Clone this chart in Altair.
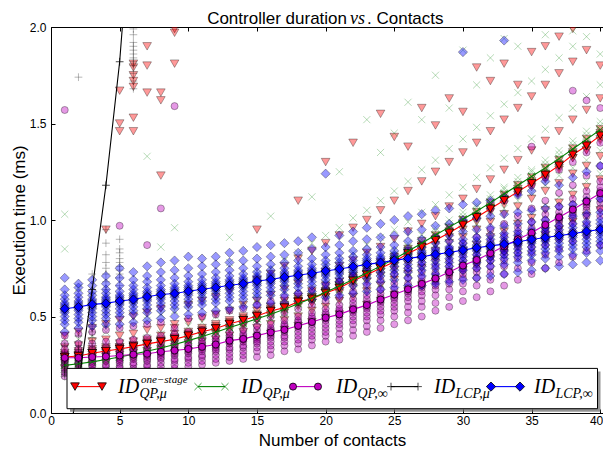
import altair as alt
import pandas as pd

# ---------------- data ----------------
CONTACTS = [1, 2, 3, 4, 5, 6, 7, 8, 9, 10, 11, 12, 13, 14, 15, 16, 17, 18, 19, 20,
            21, 22, 23, 24, 25, 26, 27, 28, 29, 30, 31, 32, 33, 34, 35, 36, 37, 38, 39, 40]

FIT_ONESTAGE = [0.290, 0.295, 0.310, 0.321, 0.332, 0.344, 0.358, 0.370, 0.382, 0.401,
                0.421, 0.438, 0.462, 0.481, 0.503, 0.529, 0.546, 0.576, 0.592, 0.622,
                0.648, 0.685, 0.716, 0.750, 0.784, 0.827, 0.861, 0.895, 0.934, 0.975,
                1.014, 1.058, 1.102, 1.147, 1.190, 1.234, 1.282, 1.338, 1.385, 1.437]
FIT_QP_MU = [0.247, 0.255, 0.265, 0.277, 0.290, 0.305, 0.320, 0.337, 0.355, 0.375,
             0.396, 0.418, 0.443, 0.465, 0.488, 0.512, 0.538, 0.566, 0.595, 0.626,
             0.658, 0.692, 0.726, 0.761, 0.798, 0.838, 0.880, 0.922, 0.963, 1.004,
             1.045, 1.090, 1.135, 1.180, 1.225, 1.270, 1.318, 1.368, 1.418, 1.468]
FIT_QP_INF = [0.286, 0.286, 0.290, 0.293, 0.298, 0.303, 0.307, 0.317, 0.324, 0.332,
              0.343, 0.355, 0.375, 0.384, 0.401, 0.418, 0.431, 0.452, 0.472, 0.494,
              0.511, 0.537, 0.559, 0.588, 0.614, 0.641, 0.669, 0.697, 0.730, 0.764,
              0.793, 0.828, 0.864, 0.900, 0.934, 0.975, 1.014, 1.054, 1.096, 1.139]
FIT_LCP_MU = [-0.25, 0.15, 0.64, 1.18, 1.82, 2.74]
FIT_LCP_INF = [0.540, 0.549, 0.563, 0.568, 0.580, 0.588, 0.602, 0.614, 0.619, 0.631,
               0.641, 0.650, 0.662, 0.670, 0.684, 0.692, 0.704, 0.714, 0.724, 0.736,
               0.746, 0.758, 0.770, 0.779, 0.791, 0.801, 0.810, 0.822, 0.832, 0.844,
               0.856, 0.866, 0.875, 0.887, 0.899, 0.909, 0.919, 0.929, 0.941, 0.951]

SAMPLES_ONESTAGE = [
    [0.23, 0.26, 0.28, 0.29, 0.31, 0.34, 0.40, 0.27, 0.29, 0.30],
    [0.24, 0.27, 0.29, 0.30, 0.32, 0.35, 0.42, 0.28, 0.30, 0.31],
    [0.25, 0.28, 0.30, 0.31, 0.33, 0.37, 0.44, 0.29, 0.31, 0.32],
    [0.26, 0.29, 0.31, 0.32, 0.34, 0.38, 0.46, 0.95, 0.30, 0.32, 0.33],
    [0.27, 0.30, 0.32, 0.34, 0.36, 0.40, 0.48, 1.46, 1.50, 1.67, 0.31, 0.33, 0.34],
    [0.28, 0.31, 0.33, 0.35, 0.37, 0.41, 0.50, 1.46, 1.53, 1.69, 1.72, 1.75, 1.79, 1.81, 0.32, 0.34, 0.35],
    [0.29, 0.32, 0.35, 0.36, 0.38, 0.43, 0.52, 1.66, 1.80, 1.90, 0.34, 0.36, 0.37],
    [0.30, 0.33, 0.36, 0.37, 0.40, 0.44, 0.54, 1.23, 1.62, 1.66, 0.35, 0.37, 0.38],
    [0.31, 0.34, 0.37, 0.39, 0.41, 0.46, 0.44, 1.81, 1.97, 1.99, 0.36, 0.38, 0.39],
    [0.32, 0.36, 0.39, 0.40, 0.42, 0.47, 0.56, 0.38, 0.40, 0.41],
    [0.33, 0.37, 0.40, 0.42, 0.44, 0.49, 0.58, 0.40, 0.42, 0.43],
    [0.34, 0.38, 0.41, 0.44, 0.46, 0.51, 0.60, 0.42, 0.44, 0.45],
    [0.36, 0.40, 0.43, 0.46, 0.48, 0.53, 0.63, 0.44, 0.46, 0.47],
    [0.37, 0.42, 0.45, 0.48, 0.50, 0.56, 0.66, 0.46, 0.48, 0.49],
    [0.39, 0.44, 0.48, 0.50, 0.53, 0.58, 0.69, 0.95, 0.48, 0.50, 0.51],
    [0.41, 0.46, 0.50, 0.53, 0.55, 0.61, 0.72, 0.51, 0.53, 0.54],
    [0.43, 0.48, 0.52, 0.55, 0.58, 0.64, 0.76, 0.53, 0.55, 0.56],
    [0.45, 0.50, 0.55, 0.58, 0.60, 0.67, 0.80, 1.10, 0.56, 0.58, 0.59],
    [0.47, 0.53, 0.57, 0.60, 0.63, 0.70, 0.84, 0.57, 0.59, 0.60],
    [0.49, 0.55, 0.60, 0.63, 0.66, 0.73, 0.88, 1.30, 0.60, 0.62, 0.63],
    [0.51, 0.58, 0.62, 0.66, 0.68, 0.76, 0.92, 0.63, 0.65, 0.66],
    [0.53, 0.60, 0.65, 0.69, 0.71, 0.79, 0.96, 1.40, 0.67, 0.69, 0.70],
    [0.56, 0.63, 0.68, 0.72, 0.74, 0.83, 1.00, 0.70, 0.72, 0.73],
    [0.58, 0.66, 0.71, 0.75, 0.78, 0.86, 1.05, 1.55, 0.73, 0.75, 0.76],
    [0.61, 0.69, 0.74, 0.78, 0.81, 0.90, 1.10, 1.43, 0.76, 0.78, 0.79],
    [0.63, 0.72, 0.77, 0.82, 0.85, 0.94, 1.15, 1.38, 0.81, 0.83, 0.84],
    [0.66, 0.75, 0.81, 0.86, 0.89, 0.98, 1.20, 1.58, 0.84, 0.86, 0.87],
    [0.68, 0.78, 0.84, 0.89, 0.92, 1.02, 1.25, 1.49, 0.87, 0.89, 0.90],
    [0.71, 0.81, 0.88, 0.93, 0.96, 1.07, 1.30, 1.63, 0.91, 0.93, 0.94],
    [0.74, 0.84, 0.91, 0.97, 1.00, 1.11, 1.35, 1.56, 0.95, 0.97, 0.98],
    [0.77, 0.87, 0.95, 1.01, 1.04, 1.16, 1.40, 1.79, 0.99, 1.01, 1.02],
    [0.80, 0.91, 0.99, 1.05, 1.09, 1.21, 1.46, 1.72, 1.04, 1.06, 1.07],
    [0.83, 0.94, 1.03, 1.10, 1.13, 1.26, 1.52, 1.81, 1.08, 1.10, 1.11],
    [0.86, 0.98, 1.07, 1.14, 1.18, 1.31, 1.58, 1.70, 1.13, 1.15, 1.16],
    [0.89, 1.01, 1.11, 1.18, 1.22, 1.36, 1.64, 1.87, 1.17, 1.19, 1.20],
    [0.92, 1.05, 1.15, 1.22, 1.27, 1.41, 1.70, 1.90, 1.21, 1.23, 1.24],
    [0.95, 1.09, 1.19, 1.27, 1.31, 1.46, 1.76, 1.95, 1.26, 1.28, 1.29],
    [0.99, 1.13, 1.24, 1.32, 1.37, 1.52, 1.82, 1.99, 1.32, 1.34, 1.35],
    [1.02, 1.17, 1.28, 1.36, 1.42, 1.57, 1.88, 1.36, 1.38, 1.39],
    [1.05, 1.21, 1.33, 1.41, 1.47, 1.63, 1.80, 1.42, 1.44, 1.45],
]
SAMPLES_QP_MU = [
    [0.20, 0.22, 0.24, 0.25, 0.27, 0.30, 0.36, 0.85, 1.03, 0.23, 0.25, 0.27],
    [0.20, 0.23, 0.25, 0.26, 0.28, 0.31, 0.38, 0.65, 0.24, 0.26, 0.28],
    [0.21, 0.24, 0.26, 0.27, 0.29, 0.32, 0.40, 0.25, 0.27, 0.29],
    [0.22, 0.25, 0.27, 0.28, 0.30, 0.34, 0.42, 0.26, 0.28, 0.30],
    [0.23, 0.26, 0.28, 0.29, 0.31, 0.35, 0.44, 0.27, 0.29, 0.31],
    [0.24, 0.27, 0.29, 0.31, 0.33, 0.37, 0.46, 0.29, 0.31, 0.33],
    [0.25, 0.28, 0.31, 0.32, 0.34, 0.39, 0.48, 1.33, 0.30, 0.32, 0.34],
    [0.26, 0.30, 0.32, 0.34, 0.36, 0.41, 0.51, 0.86, 0.32, 0.34, 0.36],
    [0.28, 0.31, 0.34, 0.36, 0.38, 0.43, 0.53, 0.96, 0.34, 0.36, 0.38],
    [0.29, 0.33, 0.36, 0.38, 0.40, 0.45, 0.56, 0.36, 0.38, 0.40],
    [0.31, 0.35, 0.38, 0.40, 0.42, 0.47, 0.59, 0.38, 0.40, 0.42],
    [0.32, 0.37, 0.40, 0.42, 0.44, 0.50, 0.62, 0.40, 0.42, 0.44],
    [0.34, 0.39, 0.42, 0.44, 0.47, 0.53, 0.65, 0.78, 0.91, 0.42, 0.44, 0.46],
    [0.36, 0.41, 0.44, 0.47, 0.49, 0.56, 0.68, 0.45, 0.47, 0.49],
    [0.38, 0.43, 0.47, 0.49, 0.52, 0.59, 0.72, 0.47, 0.49, 0.51],
    [0.40, 0.45, 0.49, 0.52, 0.55, 0.62, 0.75, 1.02, 0.49, 0.51, 0.53],
    [0.42, 0.48, 0.52, 0.55, 0.58, 0.65, 0.79, 0.52, 0.54, 0.56],
    [0.44, 0.50, 0.55, 0.58, 0.61, 0.69, 0.83, 0.55, 0.57, 0.59],
    [0.46, 0.53, 0.58, 0.61, 0.64, 0.72, 0.88, 1.12, 0.58, 0.60, 0.62],
    [0.49, 0.56, 0.61, 0.64, 0.67, 0.76, 0.92, 0.61, 0.63, 0.65],
    [0.51, 0.58, 0.64, 0.67, 0.70, 0.79, 0.96, 1.25, 0.64, 0.66, 0.68],
    [0.54, 0.61, 0.67, 0.71, 0.74, 0.83, 1.01, 0.67, 0.69, 0.71],
    [0.56, 0.64, 0.70, 0.74, 0.77, 0.87, 1.05, 1.52, 0.71, 0.73, 0.75],
    [0.59, 0.67, 0.73, 0.77, 0.80, 0.91, 1.10, 1.35, 0.74, 0.76, 0.78],
    [0.61, 0.70, 0.76, 0.81, 0.84, 0.95, 1.15, 1.45, 0.78, 0.80, 0.82],
    [0.64, 0.73, 0.80, 0.85, 0.88, 0.99, 1.20, 1.61, 0.82, 0.84, 0.86],
    [0.67, 0.76, 0.83, 0.88, 0.92, 1.04, 1.26, 1.52, 0.86, 0.88, 0.90],
    [0.70, 0.80, 0.87, 0.92, 0.96, 1.08, 1.31, 1.75, 0.90, 0.92, 0.94],
    [0.73, 0.83, 0.91, 0.96, 1.00, 1.13, 1.37, 1.58, 0.94, 0.96, 0.98],
    [0.76, 0.86, 0.94, 1.00, 1.04, 1.17, 1.42, 1.88, 0.98, 1.00, 1.02],
    [0.79, 0.90, 0.98, 1.04, 1.08, 1.22, 1.48, 1.70, 1.03, 1.05, 1.07],
    [0.82, 0.93, 1.02, 1.09, 1.13, 1.27, 1.54, 1.84, 1.07, 1.09, 1.11],
    [0.85, 0.97, 1.06, 1.13, 1.17, 1.32, 1.60, 1.94, 1.12, 1.14, 1.16],
    [0.88, 1.00, 1.10, 1.17, 1.22, 1.37, 1.66, 1.90, 1.16, 1.18, 1.20],
    [0.91, 1.04, 1.14, 1.21, 1.26, 1.42, 1.72, 1.21, 1.23, 1.25],
    [0.94, 1.08, 1.18, 1.26, 1.31, 1.47, 1.78, 1.96, 1.25, 1.27, 1.29],
    [0.98, 1.12, 1.23, 1.31, 1.36, 1.53, 1.84, 1.30, 1.32, 1.34],
    [1.01, 1.16, 1.27, 1.35, 1.41, 1.58, 1.90, 1.98, 1.35, 1.37, 1.39],
    [1.04, 1.20, 1.31, 1.40, 1.46, 1.64, 1.95, 1.40, 1.42, 1.44],
    [1.08, 1.24, 1.36, 1.45, 1.51, 1.70, 1.86, 1.45, 1.47, 1.49],
]
SAMPLES_QP_INF = [
    [0.19, 0.21, 0.23, 0.25, 0.26, 0.27, 0.28, 0.29, 0.30, 0.31, 0.33, 0.36, 0.40, 1.57],
    [0.19, 0.21, 0.23, 0.25, 0.26, 0.27, 0.28, 0.29, 0.30, 0.31, 0.33, 0.36, 0.41],
    [0.20, 0.22, 0.24, 0.25, 0.26, 0.27, 0.28, 0.29, 0.30, 0.31, 0.33, 0.36, 0.42],
    [0.20, 0.22, 0.24, 0.25, 0.27, 0.28, 0.29, 0.30, 0.31, 0.32, 0.34, 0.37, 0.43],
    [0.21, 0.23, 0.24, 0.26, 0.27, 0.28, 0.29, 0.30, 0.31, 0.32, 0.34, 0.37, 0.44, 0.97],
    [0.21, 0.23, 0.25, 0.26, 0.28, 0.29, 0.30, 0.31, 0.32, 0.33, 0.35, 0.38, 0.45],
    [0.22, 0.24, 0.25, 0.27, 0.28, 0.29, 0.30, 0.31, 0.32, 0.33, 0.35, 0.39, 0.46, 0.87],
    [0.22, 0.24, 0.26, 0.28, 0.29, 0.30, 0.31, 0.32, 0.33, 0.34, 0.36, 0.40, 0.47, 1.06],
    [0.23, 0.25, 0.27, 0.28, 0.30, 0.31, 0.32, 0.33, 0.34, 0.35, 0.37, 0.41, 0.44, 1.59],
    [0.24, 0.26, 0.28, 0.29, 0.31, 0.32, 0.33, 0.34, 0.35, 0.36, 0.38, 0.42, 0.49],
    [0.25, 0.27, 0.29, 0.30, 0.32, 0.33, 0.34, 0.35, 0.36, 0.37, 0.39, 0.43, 0.50],
    [0.26, 0.28, 0.30, 0.32, 0.33, 0.34, 0.35, 0.36, 0.37, 0.38, 0.40, 0.44, 0.51],
    [0.27, 0.29, 0.31, 0.33, 0.34, 0.36, 0.37, 0.38, 0.39, 0.40, 0.42, 0.46, 0.53],
    [0.28, 0.30, 0.32, 0.34, 0.35, 0.37, 0.38, 0.39, 0.40, 0.41, 0.43, 0.47, 0.54],
    [0.29, 0.32, 0.34, 0.36, 0.37, 0.38, 0.39, 0.40, 0.41, 0.43, 0.45, 0.49, 0.56],
    [0.30, 0.33, 0.35, 0.37, 0.39, 0.40, 0.41, 0.42, 0.43, 0.44, 0.46, 0.50, 0.58],
    [0.32, 0.35, 0.37, 0.39, 0.40, 0.42, 0.43, 0.44, 0.45, 0.46, 0.48, 0.52, 0.60],
    [0.33, 0.36, 0.38, 0.40, 0.42, 0.44, 0.45, 0.46, 0.47, 0.48, 0.50, 0.54, 0.62],
    [0.35, 0.38, 0.40, 0.42, 0.44, 0.46, 0.47, 0.48, 0.49, 0.50, 0.52, 0.56, 0.64],
    [0.37, 0.40, 0.42, 0.44, 0.46, 0.48, 0.49, 0.50, 0.51, 0.52, 0.54, 0.58, 0.66],
    [0.38, 0.41, 0.44, 0.46, 0.48, 0.50, 0.51, 0.52, 0.53, 0.54, 0.56, 0.60, 0.68],
    [0.40, 0.43, 0.46, 0.48, 0.50, 0.52, 0.53, 0.54, 0.55, 0.57, 0.59, 0.63, 0.71],
    [0.42, 0.45, 0.48, 0.50, 0.52, 0.54, 0.55, 0.56, 0.57, 0.59, 0.61, 0.66, 0.74],
    [0.44, 0.48, 0.51, 0.53, 0.55, 0.57, 0.58, 0.59, 0.60, 0.62, 0.64, 0.69, 0.77],
    [0.46, 0.50, 0.53, 0.55, 0.57, 0.59, 0.60, 0.61, 0.62, 0.64, 0.67, 0.72, 0.80],
    [0.48, 0.52, 0.55, 0.58, 0.60, 0.62, 0.63, 0.64, 0.65, 0.67, 0.70, 0.75, 0.84],
    [0.50, 0.55, 0.58, 0.61, 0.63, 0.65, 0.66, 0.67, 0.68, 0.70, 0.73, 0.78, 0.87],
    [0.53, 0.57, 0.61, 0.64, 0.66, 0.68, 0.69, 0.70, 0.71, 0.73, 0.76, 0.81, 0.91],
    [0.55, 0.60, 0.64, 0.67, 0.69, 0.71, 0.72, 0.73, 0.74, 0.76, 0.79, 0.85, 0.95],
    [0.58, 0.63, 0.67, 0.70, 0.72, 0.74, 0.75, 0.76, 0.77, 0.79, 0.82, 0.88, 0.99],
    [0.60, 0.66, 0.70, 0.73, 0.75, 0.77, 0.78, 0.79, 0.80, 0.82, 0.85, 0.91, 1.02],
    [0.63, 0.69, 0.73, 0.76, 0.79, 0.81, 0.82, 0.83, 0.84, 0.86, 0.89, 0.95, 1.06],
    [0.66, 0.72, 0.76, 0.79, 0.82, 0.84, 0.85, 0.86, 0.87, 0.89, 0.92, 0.98, 1.10],
    [0.69, 0.75, 0.80, 0.83, 0.86, 0.88, 0.89, 0.90, 0.91, 0.93, 0.96, 1.02, 1.14],
    [0.72, 0.78, 0.83, 0.86, 0.89, 0.91, 0.92, 0.93, 0.94, 0.96, 0.99, 1.06, 1.18, 1.38],
    [0.75, 0.82, 0.87, 0.90, 0.93, 0.95, 0.96, 0.97, 0.98, 1.00, 1.03, 1.10, 1.22],
    [0.78, 0.85, 0.90, 0.94, 0.97, 0.99, 1.00, 1.01, 1.02, 1.04, 1.07, 1.14, 1.26],
    [0.81, 0.89, 0.94, 0.98, 1.01, 1.03, 1.04, 1.05, 1.06, 1.08, 1.11, 1.18, 1.30, 1.67],
    [0.84, 0.92, 0.98, 1.02, 1.05, 1.07, 1.08, 1.09, 1.10, 1.12, 1.15, 1.23, 1.35, 1.62],
    [0.87, 0.96, 1.02, 1.06, 1.09, 1.11, 1.13, 1.14, 1.15, 1.17, 1.20, 1.28, 1.40, 1.58],
]
SAMPLES_LCP_MU = [
    [0.19, 0.20, 0.21, 0.22, 0.23, 0.24, 0.25, 0.26, 0.27, 0.28, 0.30, 0.31, 0.35],
    [0.21, 0.22, 0.24, 0.25, 0.27, 0.28, 0.30, 0.31, 0.33, 0.35, 0.40, 0.48, 1.74],
    [0.28, 0.30, 0.33, 0.36, 0.39, 0.42, 0.45, 0.48, 0.52, 0.55, 0.62, 0.72],
    [0.45, 0.52, 0.60, 0.64, 0.68, 0.72, 0.75, 0.78, 0.82, 0.88, 0.95],
    [0.60, 0.66, 0.70, 0.72, 0.74, 0.76, 0.78, 0.80, 0.83, 0.85, 0.90],
    [1.68, 1.72, 1.76, 1.80, 1.82, 1.84, 1.86, 1.88, 1.90, 1.92, 1.96, 1.99],
]
SAMPLES_LCP_INF = [
    [0.42, 0.46, 0.48, 0.50, 0.52, 0.53, 0.54, 0.55, 0.56, 0.57, 0.59, 0.61, 0.64, 0.70],
    [0.44, 0.47, 0.49, 0.51, 0.53, 0.54, 0.55, 0.56, 0.57, 0.58, 0.60, 0.62, 0.65, 0.67],
    [0.45, 0.48, 0.50, 0.52, 0.54, 0.55, 0.56, 0.57, 0.58, 0.59, 0.61, 0.63, 0.66, 0.69],
    [0.46, 0.49, 0.51, 0.53, 0.55, 0.56, 0.57, 0.58, 0.59, 0.60, 0.62, 0.64, 0.67, 0.71],
    [0.46, 0.50, 0.52, 0.54, 0.56, 0.57, 0.58, 0.59, 0.60, 0.61, 0.63, 0.66, 0.70, 0.75],
    [0.47, 0.51, 0.53, 0.55, 0.57, 0.58, 0.59, 0.60, 0.61, 0.62, 0.64, 0.66, 0.69, 0.73],
    [0.48, 0.52, 0.54, 0.56, 0.58, 0.59, 0.60, 0.61, 0.62, 0.63, 0.65, 0.68, 0.71, 0.76],
    [0.49, 0.53, 0.55, 0.57, 0.59, 0.60, 0.61, 0.62, 0.63, 0.64, 0.66, 0.69, 0.73, 0.78],
    [0.50, 0.54, 0.56, 0.58, 0.60, 0.61, 0.62, 0.63, 0.64, 0.65, 0.67, 0.70, 0.74, 0.79],
    [0.51, 0.55, 0.57, 0.59, 0.61, 0.62, 0.63, 0.64, 0.65, 0.66, 0.68, 0.71, 0.75, 0.81],
    [0.52, 0.56, 0.58, 0.60, 0.62, 0.63, 0.64, 0.65, 0.66, 0.67, 0.69, 0.72, 0.76, 0.80],
    [0.53, 0.57, 0.59, 0.61, 0.63, 0.64, 0.65, 0.66, 0.67, 0.68, 0.70, 0.73, 0.77, 0.81],
    [0.54, 0.58, 0.60, 0.62, 0.64, 0.65, 0.66, 0.67, 0.68, 0.69, 0.71, 0.74, 0.78, 0.83],
    [0.55, 0.59, 0.61, 0.63, 0.65, 0.66, 0.67, 0.68, 0.69, 0.70, 0.72, 0.75, 0.79, 0.84],
    [0.56, 0.60, 0.62, 0.64, 0.66, 0.67, 0.68, 0.69, 0.70, 0.71, 0.73, 0.76, 0.80, 0.86],
    [0.57, 0.61, 0.63, 0.65, 0.67, 0.68, 0.69, 0.70, 0.71, 0.72, 0.74, 0.77, 0.81, 0.87],
    [0.57, 0.61, 0.64, 0.66, 0.68, 0.69, 0.70, 0.71, 0.72, 0.73, 0.75, 0.78, 0.82, 0.88],
    [0.58, 0.62, 0.65, 0.67, 0.69, 0.70, 0.71, 0.72, 0.73, 0.74, 0.76, 0.79, 0.83, 0.89],
    [0.59, 0.63, 0.66, 0.68, 0.70, 0.71, 0.72, 0.73, 0.74, 0.75, 0.77, 0.80, 0.85, 0.91],
    [0.60, 0.64, 0.67, 0.69, 0.71, 0.72, 0.73, 0.74, 0.75, 0.77, 0.79, 0.82, 0.86, 1.24],
    [0.61, 0.65, 0.68, 0.70, 0.72, 0.73, 0.74, 0.75, 0.76, 0.78, 0.80, 0.83, 0.87, 0.92],
    [0.62, 0.66, 0.69, 0.71, 0.73, 0.74, 0.75, 0.76, 0.77, 0.79, 0.81, 0.84, 0.89, 0.94],
    [0.63, 0.67, 0.70, 0.72, 0.74, 0.76, 0.77, 0.78, 0.79, 0.80, 0.82, 0.85, 0.90, 0.96],
    [0.64, 0.68, 0.71, 0.73, 0.75, 0.77, 0.78, 0.79, 0.80, 0.81, 0.83, 0.86, 0.91, 0.98],
    [0.65, 0.69, 0.72, 0.74, 0.76, 0.78, 0.79, 0.80, 0.81, 0.82, 0.84, 0.87, 0.92, 1.00],
    [0.66, 0.70, 0.73, 0.75, 0.77, 0.79, 0.80, 0.81, 0.82, 0.83, 0.85, 0.89, 0.94, 1.02],
    [0.66, 0.71, 0.74, 0.76, 0.78, 0.80, 0.81, 0.82, 0.83, 0.84, 0.86, 0.90, 0.95, 1.03],
    [0.67, 0.72, 0.75, 0.77, 0.79, 0.81, 0.82, 0.83, 0.84, 0.85, 0.88, 0.91, 0.97, 1.05],
    [0.68, 0.73, 0.76, 0.78, 0.80, 0.82, 0.83, 0.84, 0.85, 0.86, 0.89, 0.92, 0.98, 1.06],
    [0.69, 0.74, 0.77, 0.79, 0.81, 0.83, 0.84, 0.85, 0.86, 0.88, 0.90, 0.94, 1.00, 1.08, 1.87],
    [0.70, 0.75, 0.78, 0.80, 0.82, 0.84, 0.85, 0.86, 0.87, 0.89, 0.91, 0.95, 1.01, 1.09],
    [0.71, 0.76, 0.79, 0.81, 0.83, 0.85, 0.86, 0.87, 0.88, 0.90, 0.92, 0.96, 1.02, 1.10],
    [0.72, 0.77, 0.80, 0.82, 0.84, 0.86, 0.87, 0.88, 0.89, 0.91, 0.93, 0.97, 1.03, 1.12, 1.93],
    [0.73, 0.78, 0.81, 0.83, 0.85, 0.87, 0.88, 0.89, 0.90, 0.92, 0.94, 0.98, 1.04, 1.13],
    [0.74, 0.79, 0.82, 0.84, 0.86, 0.88, 0.89, 0.90, 0.91, 0.93, 0.95, 0.99, 1.05, 1.15],
    [0.75, 0.80, 0.83, 0.85, 0.87, 0.89, 0.90, 0.91, 0.92, 0.94, 0.96, 1.00, 1.06, 1.20],
    [0.76, 0.81, 0.84, 0.86, 0.88, 0.90, 0.91, 0.92, 0.93, 0.95, 0.97, 1.01, 1.07, 1.18],
    [0.77, 0.82, 0.85, 0.87, 0.89, 0.91, 0.92, 0.93, 0.94, 0.96, 0.98, 1.02, 1.08, 1.22],
    [0.78, 0.83, 0.86, 0.88, 0.90, 0.92, 0.93, 0.94, 0.95, 0.97, 0.99, 1.03, 1.10, 1.25],
    [0.79, 0.84, 0.87, 0.89, 0.91, 0.93, 0.94, 0.95, 0.96, 0.98, 1.00, 1.04, 1.11, 1.28],
]

SERIES_SUB = ["QP,\u03bc", "QP,\u03bc", "QP,\u221e", "LCP,\u03bc", "LCP,\u221e"]
SERIES_SUP = ["one\u2212stage", "", "", "", ""]
X_TICKS = [0, 5, 10, 15, 20, 25, 30, 35, 40]
Y_TICKS = [0.0, 0.5, 1.0, 1.5, 2.0]
TITLE_PARTS = ["Controller duration", "vs", ". Contacts"]
X_TITLE = "Number of contacts"
Y_TITLE = "Execution time (ms)"

# ---------------- style / layout ----------------
W, H = 552, 386
PAD_L, PAD_T, PAD_B = 43, 19, 36
SANS = "Liberation Sans"
SERIF = "Liberation Serif"
X_PATH = "M-1,-1L1,1M-1,1L1,-1"
PLUS_PATH = "M-1,0L1,0M0,-1L0,1"
XS = alt.Scale(domain=[0, 40.2], nice=False, zero=False)
YS = alt.Scale(domain=[0, 2], nice=False, zero=False)
CLOUD_ALPHA = 0.4

STYLES = [
    dict(color="#ff0000", shape="triangle-down", filled=True, size=75),
    dict(color="#008000", shape=X_PATH, filled=False, size=50),
    dict(color="#bf00bf", shape="circle", filled=True, size=50),
    dict(color="#000000", shape=PLUS_PATH, filled=False, size=60),
    dict(color="#0000ff", shape="diamond", filled=True, size=85),
]
FITS = [FIT_ONESTAGE, FIT_QP_MU, FIT_QP_INF, FIT_LCP_MU, FIT_LCP_INF]
SAMPLES = [SAMPLES_ONESTAGE, SAMPLES_QP_MU, SAMPLES_QP_INF, SAMPLES_LCP_MU, SAMPLES_LCP_INF]


def samples_df(samples):
    return pd.DataFrame([{"c": c, "t": v} for c, vals in zip(CONTACTS, samples) for v in vals])


def fit_df(fit):
    return pd.DataFrame({"c": CONTACTS[:len(fit)], "t": fit})


def enc():
    return dict(x=alt.X("c:Q", scale=XS, axis=None), y=alt.Y("t:Q", scale=YS, axis=None))


def point_kw(st, alpha, clip=True):
    if st["filled"]:
        return dict(shape=st["shape"], filled=True, fill=st["color"],
                    fillOpacity=alpha, stroke="black", strokeOpacity=alpha,
                    strokeWidth=0.8, size=st["size"], clip=clip)
    return dict(shape=st["shape"], filled=False, stroke=st["color"],
                strokeOpacity=alpha, strokeWidth=1, size=st["size"], clip=clip)


layers = []
# scatter clouds
for st, smp in zip(STYLES, SAMPLES):
    layers.append(alt.Chart(samples_df(smp)).mark_point(**point_kw(st, CLOUD_ALPHA)).encode(**enc()))
# fitted lines + markers
for st, fit in zip(STYLES, FITS):
    df = fit_df(fit)
    layers.append(alt.Chart(df).mark_line(color=st["color"], strokeWidth=1.1, clip=True).encode(**enc()))
    layers.append(alt.Chart(df).mark_point(**point_kw(st, 1.0)).encode(**enc()))

# axes
axdf = fit_df(FIT_LCP_INF)
common_lab = dict(labelFont=SANS, labelFontSize=12, labelColor="black", grid=False, labelFlush=False)
last_x = X_TICKS[-1]
layers.append(alt.Chart(axdf).mark_point(opacity=0).encode(
    x=alt.X("c:Q", scale=XS, axis=alt.Axis(
        orient="bottom", values=X_TICKS, format="d", ticks=False, domain=True, domainColor="black",
        domainWidth=1, labelPadding=2,
        labelAlign={"condition": {"test": f"datum.value == {last_x}", "value": "right"}, "value": "center"},
        labelOffset={"condition": {"test": f"datum.value == {last_x}", "value": 2.5}, "value": 0},
        title=X_TITLE, titleFont=SANS, titleFontSize=17,
        titleFontWeight="normal", titleColor="black", titleBaseline="alphabetic",
        titleX=281, titleY=32, **common_lab)),
    y=alt.Y("t:Q", scale=YS, axis=alt.Axis(
        orient="left", values=Y_TICKS, format=".1f", ticks=False, domain=True, domainColor="black",
        domainWidth=1, labelPadding=5, title=Y_TITLE, titleFont=SANS, titleFontSize=17,
        titleFontWeight="normal", titleColor="black", titleBaseline="alphabetic",
        titleX=-27, titleY=H / 2, **common_lab)),
))
layers.append(alt.Chart(axdf).mark_point(opacity=0).encode(
    x=alt.X("c:Q", scale=XS, axis=alt.Axis(
        orient="top", offset=-H, values=X_TICKS, labels=False, domain=False, ticks=True,
        tickSize=4, tickColor="black", title=None, grid=False)),
    y=alt.Y("t:Q", scale=YS, axis=alt.Axis(
        orient="right", offset=-W, values=Y_TICKS, labels=False, domain=False, ticks=True,
        tickSize=4, tickColor="black", title=None, grid=False)),
))
layers.append(alt.Chart(axdf).mark_point(opacity=0).encode(
    x=alt.X("c:Q", scale=XS, axis=alt.Axis(
        orient="bottom", offset=-H, values=X_TICKS, labels=False, domain=True, domainColor="black",
        domainWidth=1, ticks=True, tickSize=4, tickColor="black", title=None, grid=False)),
    y=alt.Y("t:Q", scale=YS, axis=None),
))

# legend (pixel layout inside plot area, measured from the plot bottom)
ONE = pd.DataFrame({"k": [0]})
LBOX = (16, 546.5, H - 44.6, H - 4.3)
LMARK_Y = H - 26.4
LSEG = [(24, 51), (147, 174), (242, 267), (340, 367), (440, 469)]
LTEXT_X = [67, 190, 285, 383, 483]
ID_BASE, SUB_BASE, SUP_BASE = H - 20.4, H - 15.4, H - 30.4

layers.append(alt.Chart(ONE).mark_rect(fill="#666666", opacity=0.7).encode(
    x=alt.value(LBOX[0] + 3), x2=alt.value(LBOX[1] + 3), y=alt.value(LBOX[2] + 3), y2=alt.value(LBOX[3] + 3)))
layers.append(alt.Chart(ONE).mark_rect(fill="white", stroke="black", strokeWidth=1).encode(
    x=alt.value(LBOX[0]), x2=alt.value(LBOX[1]), y=alt.value(LBOX[2]), y2=alt.value(LBOX[3])))
for st, (a, b), tx, sub, sup in zip(STYLES, LSEG, LTEXT_X, SERIES_SUB, SERIES_SUP):
    layers.append(alt.Chart(ONE).mark_rule(color=st["color"], strokeWidth=1.1).encode(
        x=alt.value(a), x2=alt.value(b), y=alt.value(LMARK_Y)))
    for px in (a, b):
        layers.append(alt.Chart(ONE).mark_point(**point_kw(st, 1.0, clip=False)).encode(
            x=alt.value(px), y=alt.value(LMARK_Y)))
    layers.append(alt.Chart(ONE).mark_text(text="ID", font=SERIF, fontStyle="italic", fontSize=20,
                                           align="left", baseline="alphabetic", color="black").encode(
        x=alt.value(tx), y=alt.value(ID_BASE)))
    layers.append(alt.Chart(ONE).mark_text(text=sub, font=SERIF, fontStyle="italic", fontSize=14,
                                           align="left", baseline="alphabetic", color="black").encode(
        x=alt.value(tx + 21.5), y=alt.value(SUB_BASE)))
    if sup:
        layers.append(alt.Chart(ONE).mark_text(text=sup, font=SERIF, fontStyle="italic", fontSize=11,
                                               align="left", baseline="alphabetic", color="black").encode(
            x=alt.value(tx + 23), y=alt.value(SUP_BASE)))

# title (with italic math "vs")
TY = -3.5
layers.append(alt.Chart(ONE).mark_text(text=TITLE_PARTS[0], font=SANS, fontSize=17, align="right",
                                       baseline="alphabetic", color="black").encode(x=alt.value(296), y=alt.value(TY)))
layers.append(alt.Chart(ONE).mark_text(text=TITLE_PARTS[1], font=SERIF, fontStyle="italic", fontSize=18,
                                       align="left", baseline="alphabetic", color="black").encode(x=alt.value(299), y=alt.value(TY)))
layers.append(alt.Chart(ONE).mark_text(text=TITLE_PARTS[2], font=SANS, fontSize=17, align="left",
                                       baseline="alphabetic", color="black").encode(x=alt.value(316), y=alt.value(TY)))

chart = alt.layer(*layers).resolve_axis(x="independent", y="independent").properties(
    width=W, height=H,
    autosize=alt.AutoSizeParams(type="none"),
    padding={"left": PAD_L, "top": PAD_T, "right": 0, "bottom": PAD_B},
).configure_view(stroke=None).configure(background="white")

chart.save("out.html", embed_options={"renderer": "svg", "actions": False})
